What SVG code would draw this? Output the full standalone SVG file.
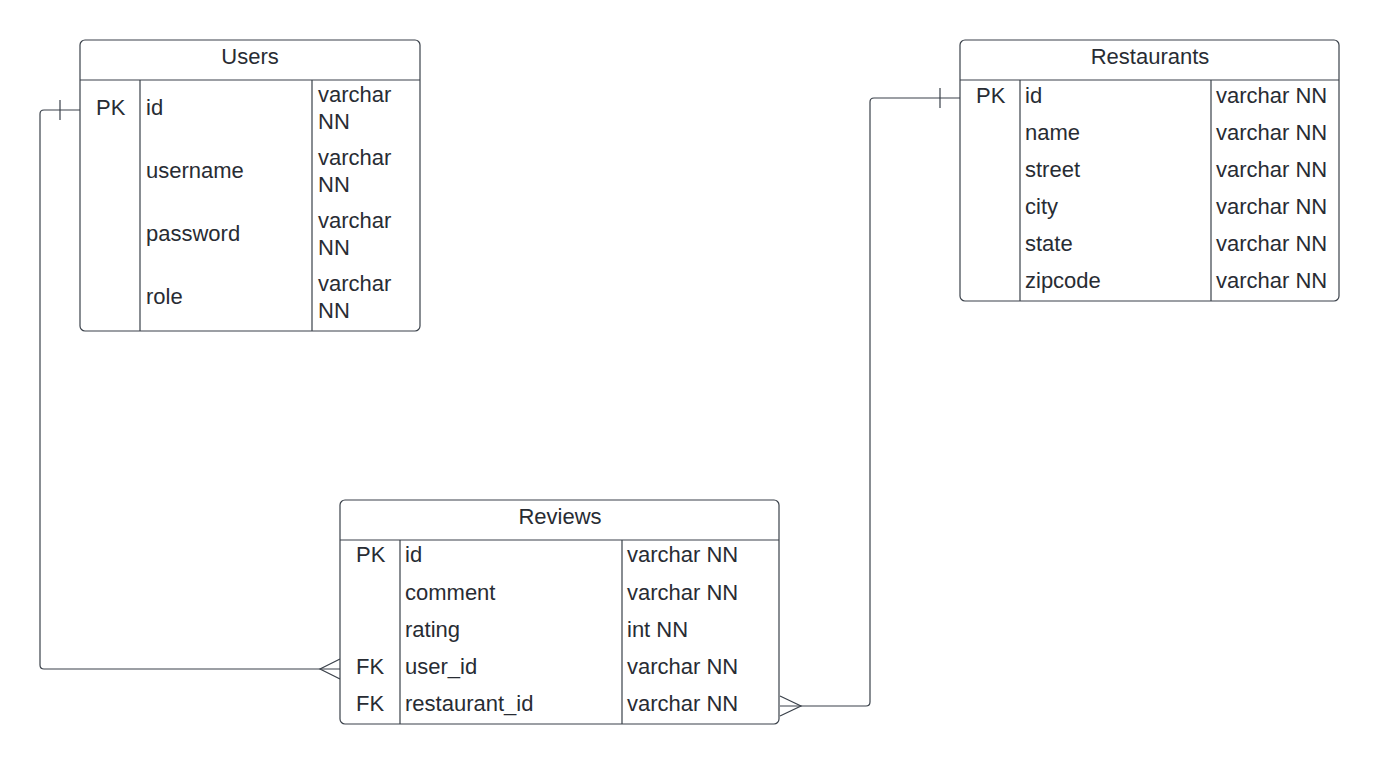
<svg xmlns="http://www.w3.org/2000/svg" width="1380" height="765" viewBox="0 0 1380 765">
<style>
.box{fill:#fff;stroke:#3a414a;stroke-width:1.2}
.ln{stroke:#3a414a;stroke-width:1.2;fill:none}
.t{font-family:"Liberation Sans",Arial,sans-serif;font-size:22px;fill:#282c33}
.h{text-anchor:middle}
</style>
<rect width="1380" height="765" fill="#fff"/>
<g id="connectors">
<path class="ln" d="M80,110 H44 Q40,110 40,114 V665 Q40,669 44,669 H340"/>
<path class="ln" d="M60,100 V120"/>
<path class="ln" d="M340,659 L320,669 L340,679"/>
<path class="ln" d="M960,98 H874 Q870,98 870,102 V702 Q870,706 866,706 H780"/>
<path class="ln" d="M940,88 V108"/>
<path class="ln" d="M780,696 L801,706 L780,716"/>
</g>
<g id="users">
<rect class="box" x="80" y="40" width="340" height="291" rx="5"/>
<path class="ln" d="M80,80 H420 M140,80 V331 M312,80 V331"/>
<text class="t h" x="250" y="64">Users</text>
<text class="t" x="96" y="115">PK</text>
<text class="t" x="146" y="115">id</text>
<text class="t" x="318" y="102">varchar</text>
<text class="t" x="318" y="129">NN</text>
<text class="t" x="146" y="178">username</text>
<text class="t" x="318" y="165">varchar</text>
<text class="t" x="318" y="192">NN</text>
<text class="t" x="146" y="241">password</text>
<text class="t" x="318" y="228">varchar</text>
<text class="t" x="318" y="255">NN</text>
<text class="t" x="146" y="304">role</text>
<text class="t" x="318" y="291">varchar</text>
<text class="t" x="318" y="318">NN</text>
</g>
<g id="restaurants">
<rect class="box" x="960" y="40" width="379" height="261" rx="5"/>
<path class="ln" d="M960,80 H1339 M1020,80 V301 M1211,80 V301"/>
<text class="t h" x="1150" y="64">Restaurants</text>
<text class="t" x="976" y="103">PK</text>
<text class="t" x="1025" y="103">id</text>
<text class="t" x="1216" y="103">varchar NN</text>
<text class="t" x="1025" y="140">name</text>
<text class="t" x="1216" y="140">varchar NN</text>
<text class="t" x="1025" y="177">street</text>
<text class="t" x="1216" y="177">varchar NN</text>
<text class="t" x="1025" y="214">city</text>
<text class="t" x="1216" y="214">varchar NN</text>
<text class="t" x="1025" y="251">state</text>
<text class="t" x="1216" y="251">varchar NN</text>
<text class="t" x="1025" y="288">zipcode</text>
<text class="t" x="1216" y="288">varchar NN</text>
</g>
<g id="reviews">
<rect class="box" x="340" y="500" width="439" height="224" rx="5"/>
<path class="ln" d="M340,540 H779 M400,540 V724 M622,540 V724"/>
<text class="t h" x="560" y="524">Reviews</text>
<text class="t" x="356" y="562">PK</text>
<text class="t" x="405" y="562">id</text>
<text class="t" x="627" y="562">varchar NN</text>
<text class="t" x="405" y="600">comment</text>
<text class="t" x="627" y="600">varchar NN</text>
<text class="t" x="405" y="637">rating</text>
<text class="t" x="627" y="637">int NN</text>
<text class="t" x="356" y="674">FK</text>
<text class="t" x="405" y="674">user_id</text>
<text class="t" x="627" y="674">varchar NN</text>
<text class="t" x="356" y="711">FK</text>
<text class="t" x="405" y="711">restaurant_id</text>
<text class="t" x="627" y="711">varchar NN</text>
</g>
</svg>
